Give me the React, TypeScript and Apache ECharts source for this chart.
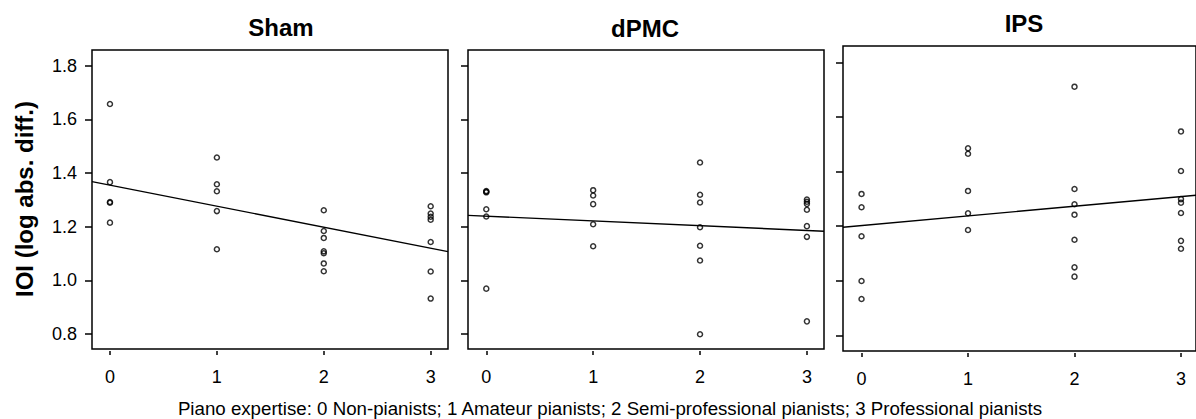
import React, { useEffect, useRef } from "react";
import * as echarts from "echarts";

const panelTitles = ["Sham", "dPMC", "IPS"];
const expertiseLevels = [0, 1, 2, 3];
const xTickLabels = ["0", "1", "2", "3"];
const yTickValues = [0.8, 1.0, 1.2, 1.4, 1.6, 1.8];

// IOI values per expertise level (0..3) for each stimulation condition
const shamValues = [
  [1.657, 1.366, 1.292, 1.289, 1.215],
  [1.458, 1.358, 1.332, 1.258, 1.116],
  [1.261, 1.184, 1.158, 1.108, 1.101, 1.063, 1.034],
  [1.276, 1.249, 1.237, 1.226, 1.143, 1.033, 0.932],
];
const dpmcValues = [
  [1.333, 1.33, 1.328, 1.265, 1.238, 0.969],
  [1.336, 1.316, 1.284, 1.209, 1.127],
  [1.439, 1.319, 1.29, 1.198, 1.129, 1.074, 0.799],
  [1.301, 1.293, 1.285, 1.263, 1.202, 1.162, 0.847],
];
const ipsValues = [
  [1.318, 1.269, 1.163, 0.999, 0.933],
  [1.485, 1.465, 1.329, 1.247, 1.186],
  [1.711, 1.336, 1.28, 1.242, 1.15, 1.049, 1.015],
  [1.547, 1.402, 1.299, 1.286, 1.248, 1.146, 1.117],
];

// regression line: [x at left, y at left, x at right, y at right]
const shamFit = [-0.168, 1.368, 3.162, 1.107];
const dpmcFit = [-0.171, 1.242, 3.16, 1.183];
const ipsFit = [-0.174, 1.196, 3.141, 1.313];

const caption =
  "Piano expertise: 0 Non-pianists; 1 Amateur pianists; 2 Semi-professional pianists; 3 Professional pianists";
const yAxisTitle = "IOI (log abs. diff.)";

const FONT = "'Liberation Sans', Arial, Helvetica, sans-serif";

export default function App() {
  const ref = useRef<HTMLDivElement>(null);

  useEffect(() => {
    if (!ref.current) return;
    const chart = echarts.init(ref.current, undefined, { renderer: "svg" });

    const allValues = [shamValues, dpmcValues, ipsValues];
    const fits = [shamFit, dpmcFit, ipsFit];
    const grids = [
      { left: 92, top: 50, width: 356, height: 299 },
      { left: 468, top: 50, width: 356, height: 299 },
      { left: 843, top: 46, width: 356, height: 305 },
    ];
    const yRanges = [
      [0.744, 1.8585],
      [0.744, 1.8585],
      [0.7425, 1.86],
    ];

    const option: any = {
      animation: false,
      grid: grids.map((g) => ({
        ...g,
        show: true,
        borderColor: "#000",
        borderWidth: 1.5,
        backgroundColor: "transparent",
      })),
      xAxis: grids.map((_, i) => ({
        type: "value",
        gridIndex: i,
        min: fits[i][0],
        max: fits[i][2],
        offset: 2,
        axisLine: { show: false, onZero: false },
        splitLine: { show: false },
        axisTick: {
          show: true,
          length: 4,
          customValues: expertiseLevels,
          lineStyle: { color: "#000", width: 1.5 },
        },
        axisLabel: {
          show: true,
          customValues: expertiseLevels,
          formatter: (v: number) => xTickLabels[expertiseLevels.indexOf(Math.round(v))] ?? "",
          color: "#000",
          fontSize: 18,
          fontFamily: FONT,
          margin: 17,
        },
      })),
      yAxis: grids.map((_, i) => ({
        type: "value",
        gridIndex: i,
        min: yRanges[i][0],
        max: yRanges[i][1],
        offset: 0,
        axisLine: { show: false, onZero: false },
        splitLine: { show: false },
        axisTick: {
          show: true,
          length: 7,
          customValues: yTickValues,
          lineStyle: { color: "#000", width: 1.5 },
        },
        axisLabel: {
          show: i === 0,
          customValues: yTickValues,
          formatter: (v: number) => v.toFixed(1),
          color: "#000",
          fontSize: 18,
          fontFamily: FONT,
          margin: 15,
        },
      })),
      series: [
        ...allValues.map((vals, i) => ({
          type: "scatter",
          xAxisIndex: i,
          yAxisIndex: i,
          symbol: "circle",
          symbolSize: 5,
          itemStyle: { color: "rgba(0,0,0,0)", borderColor: "#000", borderWidth: 1.5 },
          data: expertiseLevels.flatMap((lvl, k) => vals[k].map((v) => [lvl, v])),
          silent: true,
        })),
        ...fits.map((f, i) => ({
          type: "line",
          xAxisIndex: i,
          yAxisIndex: i,
          symbol: "none",
          lineStyle: { color: "#000", width: 1.4 },
          data: [
            [f[0], f[1]],
            [f[2], f[3]],
          ],
          silent: true,
        })),
      ],
      graphic: [
        {
          type: "text",
          x: 281,
          y: 27,
          style: {
            text: panelTitles[0],
            font: `bold 24px ${FONT}`,
            fill: "#000",
            textAlign: "center",
            textVerticalAlign: "middle",
          },
        },
        {
          type: "text",
          x: 645,
          y: 28,
          style: {
            text: panelTitles[1],
            font: `bold 24px ${FONT}`,
            fill: "#000",
            textAlign: "center",
            textVerticalAlign: "middle",
          },
        },
        {
          type: "text",
          x: 1024,
          y: 23,
          style: {
            text: panelTitles[2],
            font: `bold 24px ${FONT}`,
            fill: "#000",
            textAlign: "center",
            textVerticalAlign: "middle",
          },
        },
        {
          type: "text",
          x: 24,
          y: 199,
          rotation: Math.PI / 2,
          style: {
            text: yAxisTitle,
            font: `bold 24px ${FONT}`,
            fill: "#000",
            textAlign: "center",
            textVerticalAlign: "middle",
          },
        },
        {
          type: "text",
          x: 610,
          y: 408,
          style: {
            text: caption,
            font: `18.7px ${FONT}`,
            fill: "#000",
            textAlign: "center",
            textVerticalAlign: "middle",
          },
        },
      ],
    };

    chart.setOption(option);
    return () => chart.dispose();
  }, []);

  return (
    <div
      ref={ref}
      style={{ position: "fixed", left: 0, top: 0, width: 1196, height: 419, background: "#fff" }}
    />
  );
}
